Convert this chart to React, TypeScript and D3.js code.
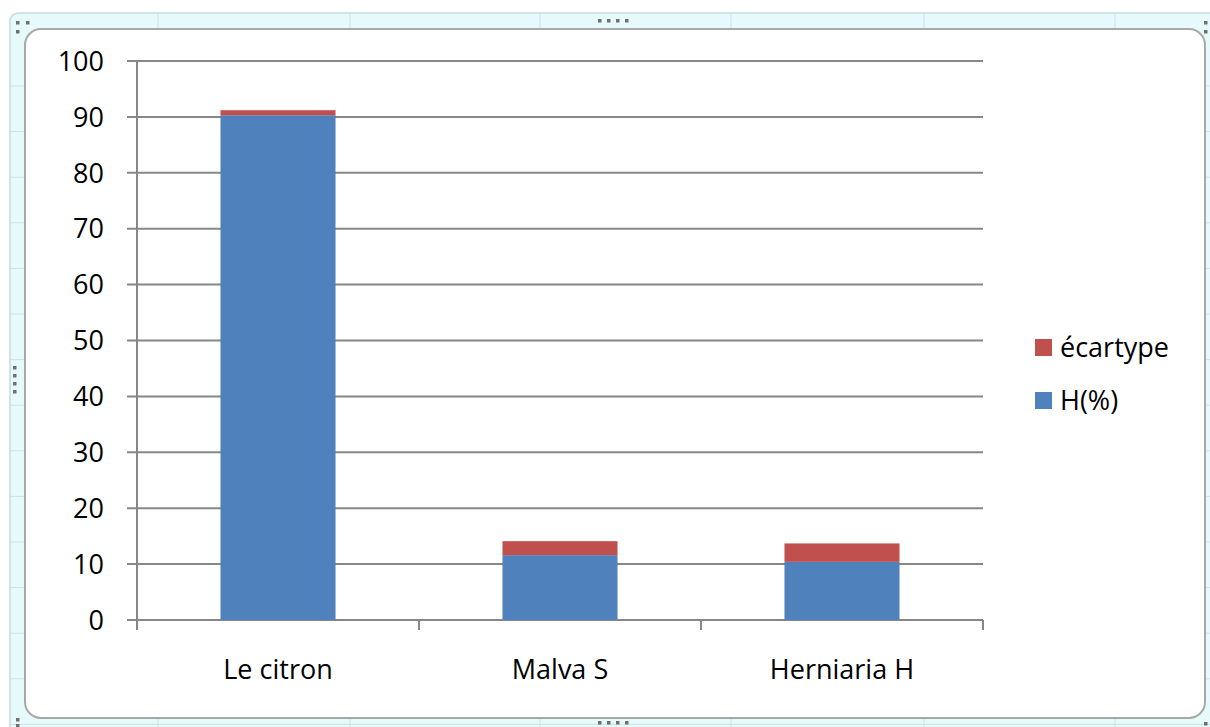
import React from "react";
import * as d3 from "d3";

const categories = ["Le citron", "Malva S", "Herniaria H"];
const hValues = [90.3, 11.6, 10.4];
const ecartValues = [0.9, 2.5, 3.3];
const yTicks = [0, 10, 20, 30, 40, 50, 60, 70, 80, 90, 100];
const seriesNames = ["H(%)", "écartype"];

const W = 1210;
const H = 727;
const FONT = "'Open Sans', Lato, sans-serif";
const FS = 27;
const BLUE = "#4F81BD";
const RED = "#C0504D";
const GRID = "#878787";

export default function App() {
  const plotLeft = 137;
  const plotRight = 983;
  const plotTop = 61;
  const plotBottom = 620;

  const x = d3
    .scaleBand<string>()
    .domain(categories)
    .range([plotLeft, plotRight])
    .paddingInner(0.592)
    .paddingOuter(0.296);
  const y = d3.scaleLinear().domain([0, 100]).range([plotBottom, plotTop]);

  const rows = categories.map((c, i) => ({ cat: c, H: hValues[i], E: ecartValues[i] }));
  const stacked = d3.stack<any>().keys(["H", "E"])(rows);
  const colors = [BLUE, RED];

  const step = x.step();
  const boundaries = d3.range(categories.length + 1).map((i) => plotLeft + i * step);

  // spreadsheet background grid
  const colLines = [158, 350, 540, 731, 924, 1115];
  const rowLines = d3.range(0, 15).map((i) => 86 + i * 45.6);

  const dot = (cx: number, cy: number, k: string) => (
    <rect key={k} x={cx} y={cy} width={3.5} height={3.5} fill="#6f6f6f" />
  );

  return (
    <div style={{ position: "absolute", left: 0, top: 0 }}>
      <svg width={W} height={H} style={{ display: "block" }}>
        <rect x={0} y={0} width={W} height={H} fill="#ffffff" />
        {/* cyan spreadsheet area */}
        <rect x={10} y={13} width={W} height={H} rx={8} fill="#e6fafb" stroke="#c9dadc" strokeWidth={1.5} />
        {colLines.map((cx, i) => (
          <line key={"c" + i} x1={cx} x2={cx} y1={14} y2={H} stroke="#cfe0e4" strokeWidth={1} />
        ))}
        {rowLines.map((ry, i) => (
          <line key={"r" + i} x1={10} x2={W} y1={ry} y2={ry} stroke="#cfe0e4" strokeWidth={1} />
        ))}
        {/* chart frame */}
        <rect x={25} y={29} width={1180} height={689} rx={16} fill="#ffffff" stroke="#a8a8a8" strokeWidth={2} />
        {/* handles */}
        {dot(16, 21, "h1")}
        {dot(26, 21, "h2")}
        {dot(16, 30, "h3")}
        {[598, 607, 616, 625].map((xx, i) => dot(xx, 19, "t" + i))}
        {[598, 607, 616, 625].map((xx, i) => dot(xx, 721, "b" + i))}
        {[366, 374, 382, 390].map((yy, i) => dot(13, yy, "l" + i))}
        {dot(1204, 21, "r1")}
        {dot(1204, 30, "r2")}
        {dot(16, 718, "bl1")}
        {dot(16, 724, "bl2")}
        {dot(1204, 722, "br1")}

        {/* gridlines */}
        {yTicks.map((t) => (
          <line
            key={"g" + t}
            x1={plotLeft - 10}
            x2={plotRight}
            y1={y(t)}
            y2={y(t)}
            stroke={GRID}
            strokeWidth={2}
          />
        ))}
        {/* y axis */}
        <line x1={plotLeft} x2={plotLeft} y1={plotTop} y2={plotBottom + 10} stroke={GRID} strokeWidth={2} />
        {/* x axis ticks */}
        {boundaries.map((bx, i) => (
          <line key={"xt" + i} x1={bx} x2={bx} y1={plotBottom} y2={plotBottom + 10} stroke={GRID} strokeWidth={2} />
        ))}
        {/* bars */}
        {stacked.map((s, si) =>
          s.map((d, i) => (
            <rect
              key={si + "-" + i}
              x={x(categories[i])!}
              y={y(d[1])}
              width={x.bandwidth()}
              height={y(d[0]) - y(d[1])}
              fill={colors[si]}
            />
          ))
        )}
        {/* y labels */}
        {yTicks.map((t) => (
          <text
            key={"yl" + t}
            x={104}
            y={y(t)}
            dy="0.36em"
            textAnchor="end"
            fontFamily={FONT}
            fontSize={FS}
            fill="#000"
          >
            {t}
          </text>
        ))}
        {/* x labels */}
        {categories.map((c) => (
          <text
            key={"xl" + c}
            x={x(c)! + x.bandwidth() / 2}
            y={679}
            textAnchor="middle"
            fontFamily={FONT}
            fontSize={FS}
            fill="#000"
          >
            {c}
          </text>
        ))}
        {/* legend */}
        {[1, 0].map((si, j) => (
          <g key={"lg" + si} transform={`translate(1035, ${339 + j * 53})`}>
            <rect x={0} y={0} width={17} height={17} fill={colors[si]} />
            <text x={25} y={18} fontFamily={FONT} fontSize={FS} fill="#000">
              {seriesNames[si]}
            </text>
          </g>
        ))}
      </svg>
    </div>
  );
}
